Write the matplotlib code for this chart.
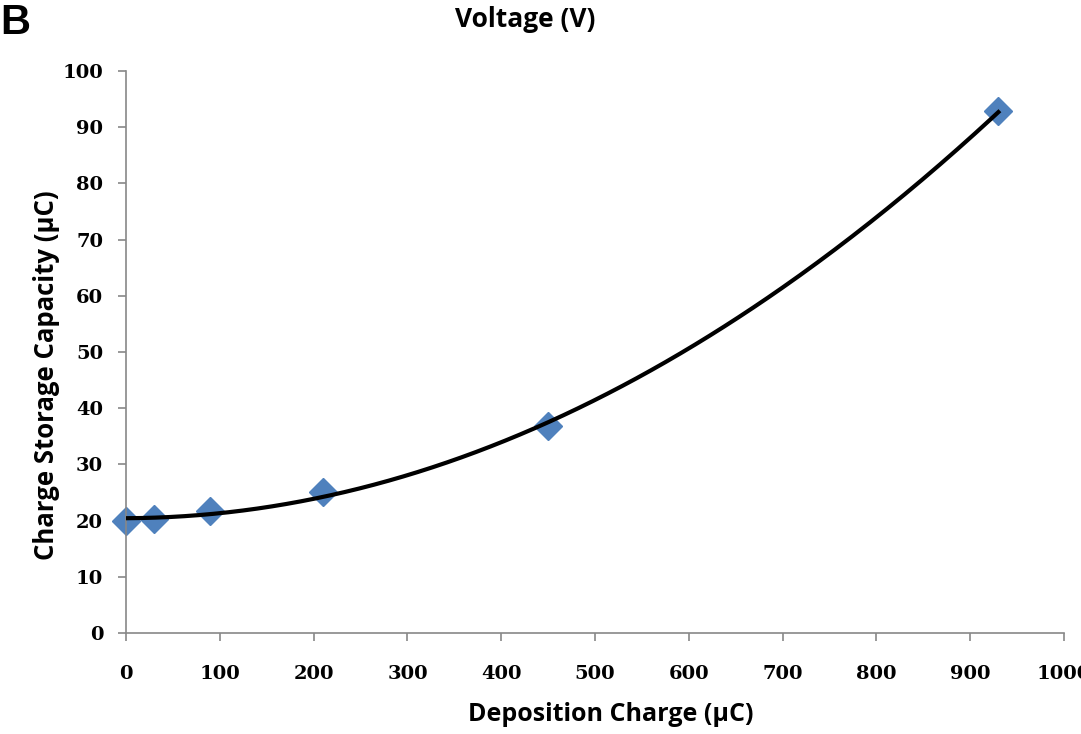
import numpy as np
import matplotlib
matplotlib.use("Agg")
import matplotlib.pyplot as plt

deposition_charge = [0, 30, 90, 210, 450, 930]
storage_capacity = [20.0, 20.2, 21.7, 25.0, 36.8, 92.8]
x_ticks = [0, 100, 200, 300, 400, 500, 600, 700, 800, 900, 1000]
y_ticks = [0, 10, 20, 30, 40, 50, 60, 70, 80, 90, 100]

fig = plt.figure(figsize=(10.81, 7.34), dpi=100)
ax = fig.add_axes([0.1166, 0.1376, 0.8677, 0.7657])

# polynomial trendline (Excel-style, order 2) fitted to the data
coef = np.polyfit(deposition_charge, storage_capacity, 2)
xs = np.linspace(min(deposition_charge), max(deposition_charge), 300)
ax.plot(deposition_charge, storage_capacity, linestyle="none", marker="D",
        markersize=14, color="#4F81BD", zorder=2, clip_on=False)
ax.plot(xs, np.polyval(coef, xs), color="black", lw=3, zorder=3)

ax.set_xlim(0, 1000)
ax.set_ylim(0, 100)
ax.set_xticks(x_ticks)
ax.set_yticks(y_ticks)
tick_font = dict(family="DejaVu Serif", weight="bold", size=14)
ax.set_xticklabels([str(t) for t in x_ticks], fontdict=tick_font)
ax.set_yticklabels([str(t) for t in y_ticks], fontdict=tick_font)
for s in ["top", "right"]:
    ax.spines[s].set_visible(False)
for s in ["left", "bottom"]:
    ax.spines[s].set_color("#888888")
    ax.spines[s].set_linewidth(1.2)
ax.tick_params(axis="both", direction="out", length=6, color="#888888", width=1.2)
ax.tick_params(axis="x", pad=17)
ax.tick_params(axis="y", pad=10.5)

lab_font = dict(family="Open Sans", weight="bold")
fig.text(0.5652, 0.0259, "Deposition Charge (µC)", ha="center", va="center",
         size=18, **lab_font)
fig.text(0.0430, 0.489, "Charge Storage Capacity (µC)", ha="center", va="center",
         rotation=90, size=18.5, **lab_font)
fig.text(0.4857, 0.973, "Voltage (V)", ha="center", va="center",
         size=19, **lab_font)
fig.text(0.0, 0.969, "B", ha="left", va="center", family="Liberation Sans",
         weight="bold", size=30)

fig.savefig("out.png", dpi=100)
